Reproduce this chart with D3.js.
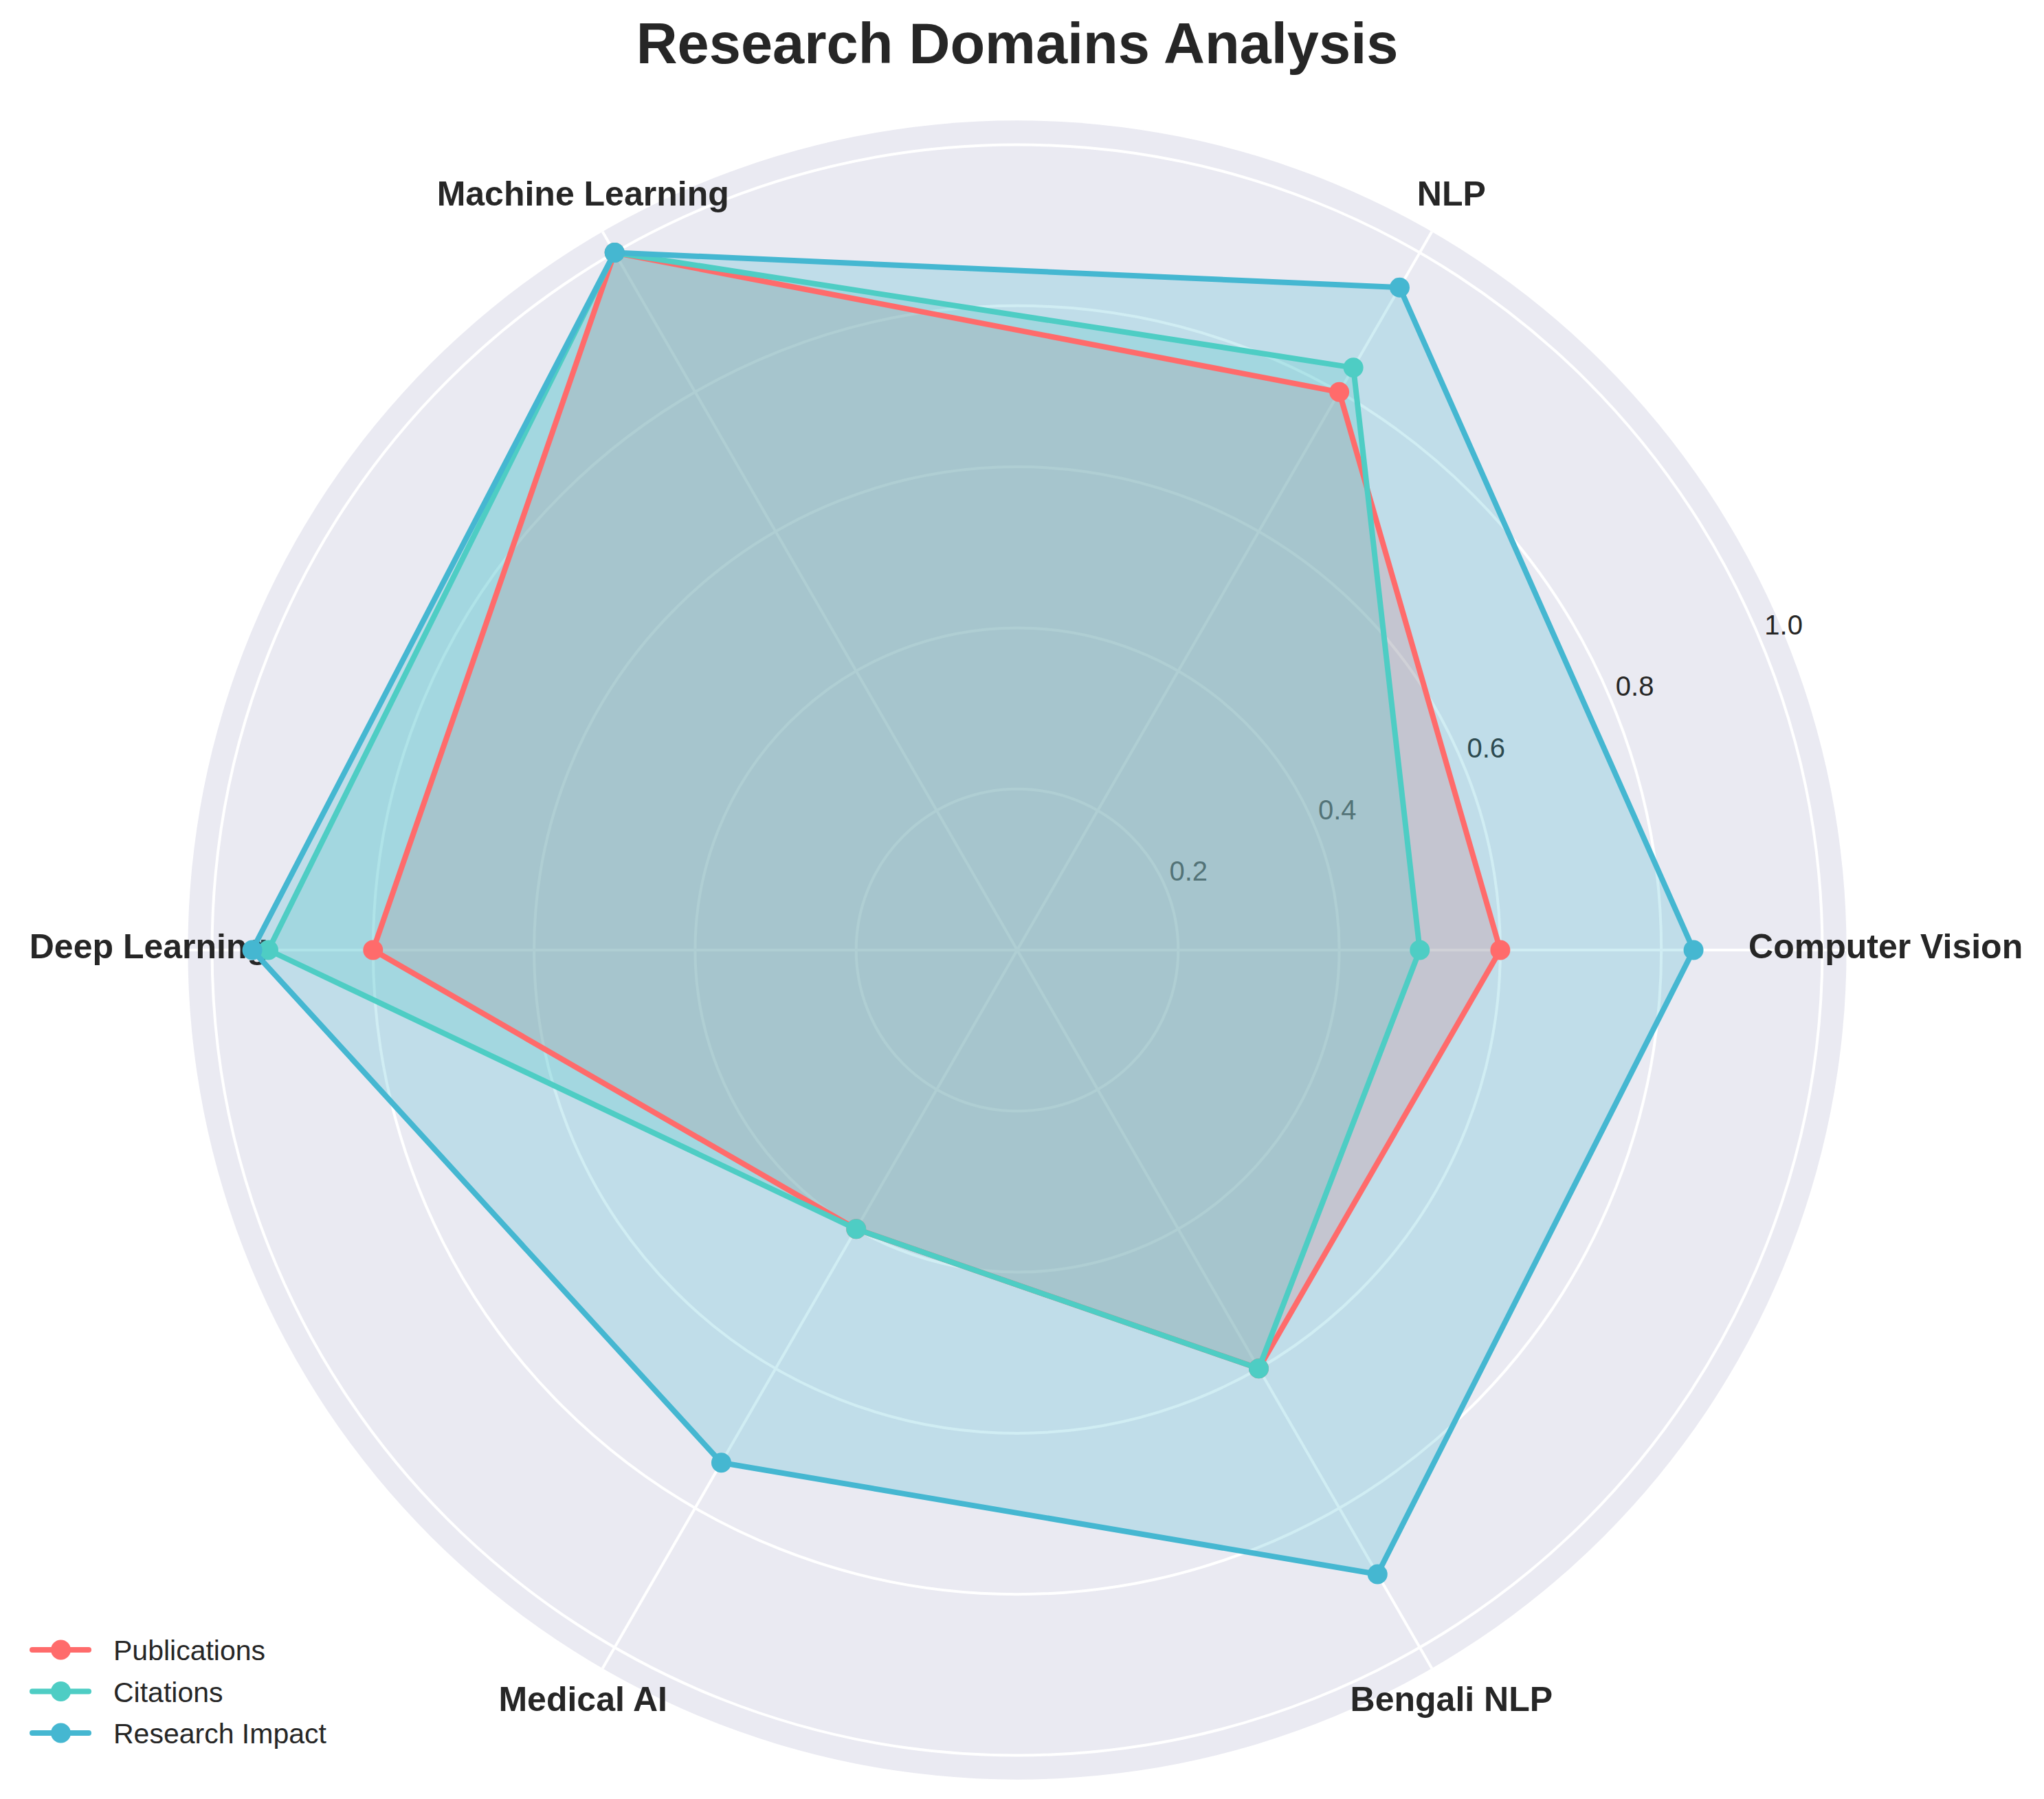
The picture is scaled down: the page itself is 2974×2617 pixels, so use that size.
<!DOCTYPE html>
<html>
<head>
<meta charset="utf-8">
<script src="https://cdn.jsdelivr.net/npm/d3@7"></script>
<style>
  body { margin: 0; background: #fff; }
  text { font-family: "Liberation Sans", Arial, sans-serif; fill: #262626; }
</style>
</head>
<body>
<svg id="chart"></svg>
<script>
// ---- data ----
const categories = ['Computer Vision', 'NLP', 'Machine Learning', 'Deep Learning', 'Medical AI', 'Bengali NLP'];
const publications = [0.60, 0.80, 1.00, 0.80, 0.40, 0.60];
const citations = [0.50, 0.835, 1.00, 0.93, 0.40, 0.60];
const researchImpact = [0.84, 0.95, 1.00, 0.95, 0.735, 0.895];
const seriesNames = ['Publications', 'Citations', 'Research Impact'];
const seriesColors = ['#FF6B6B', '#4ECDC4', '#45B7D1'];
const radialTicks = [0.2, 0.4, 0.6, 0.8, 1.0];

const width = 2974, height = 2617;
const cx = 1480, cy = 1382;
const rMaxValue = 1.03;

const svg = d3.select('#chart').attr('width', width).attr('height', height);

const r = d3.scaleLinear().domain([0, 1]).range([0, 1171.5]);
const outerR = r(rMaxValue);

// matplotlib angle: 0 = east, counter-clockwise. d3 angle: 0 = north, clockwise
const theta = i => i * 2 * Math.PI / categories.length;
const d3Angle = i => Math.PI / 2 - theta(i);

const g = svg.append('g').attr('transform', `translate(${cx},${cy})`);

// background
g.append('circle').attr('r', outerR).attr('fill', '#EAEAF2');

// ring grid
g.selectAll('.ring').data(radialTicks).enter().append('circle')
  .attr('r', d => r(d))
  .attr('fill', 'none')
  .attr('stroke', '#fff')
  .attr('stroke-width', 4);

// spokes
g.selectAll('.spoke').data(categories).enter().append('line')
  .attr('x1', 0).attr('y1', 0)
  .attr('x2', (d, i) => outerR * Math.cos(theta(i)))
  .attr('y2', (d, i) => -outerR * Math.sin(theta(i)))
  .attr('stroke', '#fff')
  .attr('stroke-width', 4);

// radial tick labels at 22.5 deg
const labelAng = 22.5 * Math.PI / 180;
g.selectAll('.rtick').data(radialTicks).enter().append('text')
  .attr('x', d => r(d) * Math.cos(labelAng) + 5)
  .attr('y', d => -r(d) * Math.sin(labelAng) - 11)
  .attr('text-anchor', 'start')
  .style('font-size', '40px')
  .text(d => d.toFixed(1));

// category labels
const labelR = outerR + 66;
g.selectAll('.cat').data(categories).enter().append('text')
  .attr('x', (d, i) => (labelR - 9) * Math.cos(theta(i)))
  .attr('y', (d, i) => -labelR * Math.sin(theta(i)) + 12 + 7 * Math.sin(theta(i)) / 0.866)
  .attr('text-anchor', 'middle')
  .style('font-size', '50px')
  .style('font-weight', 'bold')
  .text(d => d);

const allSeries = [publications, citations, researchImpact];

const radial = d3.lineRadial()
  .angle((d, i) => d3Angle(i))
  .radius(d => r(d))
  .curve(d3.curveLinearClosed);

// fills first (patches sit below lines)
allSeries.forEach((vals, s) => {
  g.append('path')
    .attr('d', radial(vals))
    .attr('fill', seriesColors[s])
    .attr('fill-opacity', 0.25)
    .attr('stroke', 'none');
});

// lines + markers
allSeries.forEach((vals, s) => {
  g.append('path')
    .attr('d', radial(vals))
    .attr('fill', 'none')
    .attr('stroke', seriesColors[s])
    .attr('stroke-width', 8)
    .attr('stroke-linejoin', 'round');
  g.selectAll('.m' + s).data(vals).enter().append('circle')
    .attr('cx', (d, i) => r(d) * Math.cos(theta(i)))
    .attr('cy', (d, i) => -r(d) * Math.sin(theta(i)))
    .attr('r', 14.5)
    .attr('fill', seriesColors[s]);
});

// title
svg.append('text')
  .attr('x', cx).attr('y', 92)
  .attr('text-anchor', 'middle')
  .style('font-size', '83px')
  .style('font-weight', 'bold')
  .text('Research Domains Analysis');

// legend
const legend = svg.append('g').attr('transform', 'translate(0,2400)');
seriesNames.forEach((name, i) => {
  const row = legend.append('g').attr('transform', `translate(0,${i * 60.5})`);
  row.append('line')
    .attr('x1', 47).attr('x2', 129).attr('y1', 0).attr('y2', 0)
    .attr('stroke', seriesColors[i]).attr('stroke-width', 8).attr('stroke-linecap', 'round');
  row.append('circle').attr('cx', 88.5).attr('cy', 0).attr('r', 14.5).attr('fill', seriesColors[i]);
  row.append('text')
    .attr('x', 165).attr('y', 15)
    .style('font-size', '41px')
    .text(name);
});
</script>
</body>
</html>
